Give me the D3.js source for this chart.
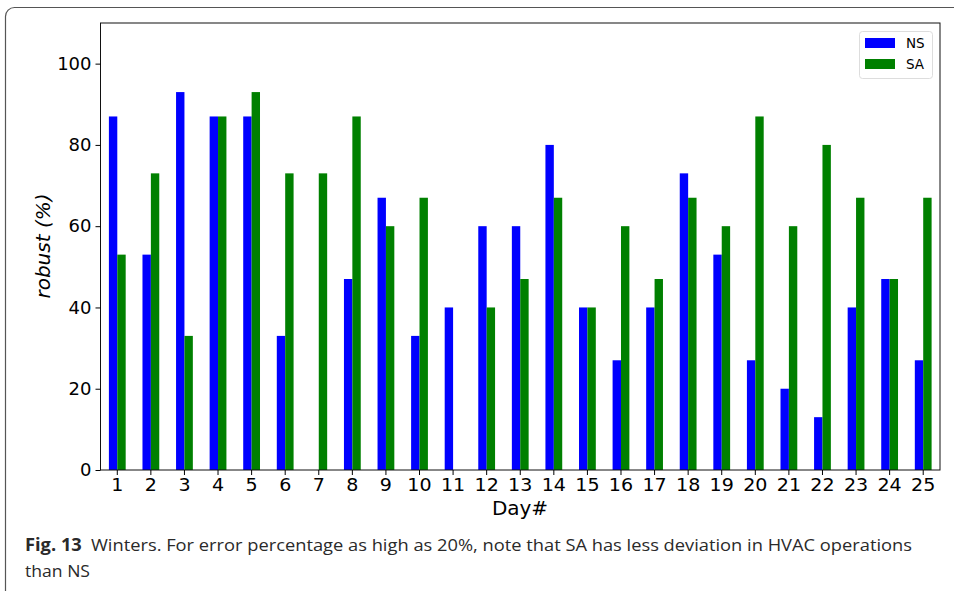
<!DOCTYPE html>
<html><head><meta charset="utf-8">
<script src="https://cdn.jsdelivr.net/npm/d3@7"></script>
<style>body{margin:0;background:#fff}svg{display:block}
.ax{font-family:'DejaVu Sans',sans-serif}
.cap{font-family:'Open Sans',sans-serif}
</style>
</head><body>
<script>
const days = ["1","2","3","4","5","6","7","8","9","10","11","12","13","14","15","16","17","18","19","20","21","22","23","24","25"];
const nsValues = [87,53,93,87,87,33,0,47,67,33,40,60,60,80,40,27,40,73,53,27,20,13,40,47,27];
const saValues = [53,73,33,87,93,73,73,87,60,67,0,40,47,67,40,60,47,67,60,87,60,80,67,47,67];
const seriesNames = ["NS","SA"];
const seriesColors = ["#0000ff","#008000"];
const yTicks = [0,20,40,60,80,100];

const W = 954, H = 591;
const svg = d3.select("body").append("svg").attr("width", W).attr("height", H);

// outer card border
svg.append("rect").attr("x",5.5).attr("y",7.5).attr("width",1000).attr("height",620)
  .attr("rx",9).attr("fill","none").attr("stroke","#555").attr("stroke-width",1.2);

const L = 100.5, R = 940, T = 23, B = 470;
const x = d3.scaleBand().domain(days).range([L, R]).paddingInner(0).paddingOuter(0);
const y = d3.scaleLinear().domain([0, 110]).range([B, T]);
const bw = x.bandwidth() * 0.25;

const data = days.map((d,i)=>({day:d, vals:[nsValues[i], saValues[i]]}));
seriesNames.forEach((s, si) => {
  svg.append("g").selectAll("rect").data(data).join("rect")
    .attr("x", d => x(d.day) + x.bandwidth()/2 - bw + si*bw)
    .attr("y", d => y(d.vals[si]))
    .attr("width", bw)
    .attr("height", d => B - y(d.vals[si]))
    .attr("fill", seriesColors[si]);
});

// frame
svg.append("rect").attr("x",L).attr("y",T).attr("width",R-L).attr("height",B-T)
  .attr("fill","none").attr("stroke","#111").attr("stroke-width",1);

const yAxis = svg.append("g").attr("transform",`translate(${L},0)`)
  .call(d3.axisLeft(y).tickValues(yTicks).tickSize(5).tickPadding(4));
const xAxis = svg.append("g").attr("transform",`translate(0,${B})`)
  .call(d3.axisBottom(x).tickSize(5).tickPadding(3));
[yAxis, xAxis].forEach(a => {
  a.attr("font-family", null).attr("font-size", null).attr("class","ax");
  a.select(".domain").remove();
  a.selectAll("line").attr("stroke","#000");
  a.selectAll("text").attr("class","ax").style("font-size","18px").attr("fill","#000");
});
xAxis.selectAll("text").attr("transform","scale(1.06,1)");

svg.append("text").attr("class","ax").attr("x",520).attr("y",515).attr("text-anchor","middle")
  .style("font-size","20px").text("Day#");
svg.append("text").attr("class","ax").attr("transform","translate(50,246) rotate(-90)").attr("text-anchor","middle")
  .style("font-size","20px").attr("font-style","italic").text("robust (%)");

// legend
const lg = svg.append("g");
lg.append("rect").attr("x",859.5).attr("y",31.5).attr("width",73).attr("height",47).attr("rx",3)
  .attr("fill","#fff").attr("stroke","#ddd");
seriesNames.forEach((s,i)=>{
  lg.append("rect").attr("x",865).attr("y",38+i*21).attr("width",30).attr("height",10).attr("fill",seriesColors[i]);
  lg.append("text").attr("class","ax").attr("x",906).attr("y",48+i*21).style("font-size","13.5px").text(s);
});

// caption
const cap = svg.append("text").attr("class","cap").attr("x",25).attr("y",551)
  .style("font-size","17px").attr("fill","#2a2a2a").attr("textLength",887).attr("lengthAdjust","spacingAndGlyphs");
cap.append("tspan").attr("font-weight","bold").text("Fig. 13");
cap.append("tspan").text("\u2002Winters. For error percentage as high as 20%, note that SA has less deviation in HVAC operations");
svg.append("text").attr("class","cap").attr("x",25).attr("y",577)
  .style("font-size","17px").attr("fill","#2a2a2a").attr("textLength",65).attr("lengthAdjust","spacingAndGlyphs").text("than NS");
</script>
</body></html>
